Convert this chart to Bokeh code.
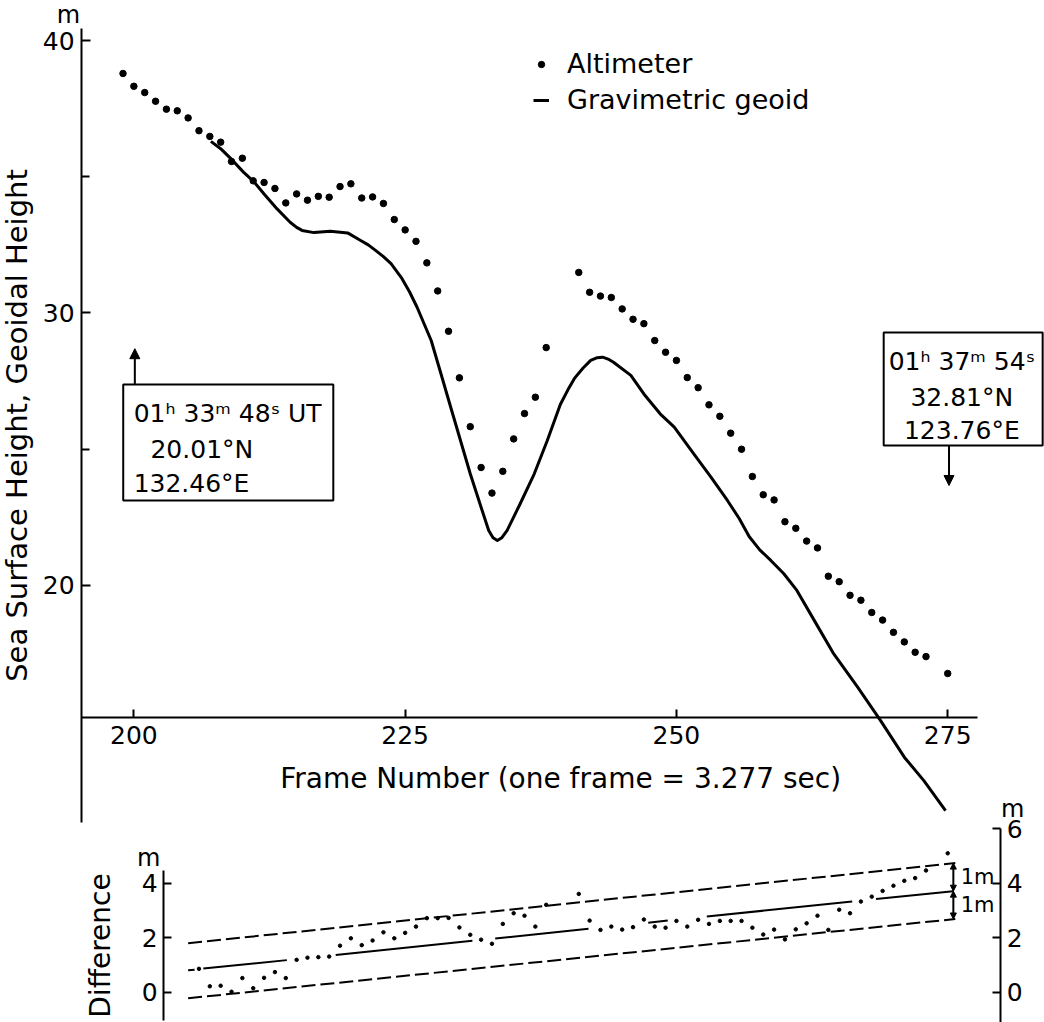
from bokeh.plotting import figure
from bokeh.models import (Range1d, LinearAxis, FixedTicker, Label, BoxAnnotation,
                          Arrow, NormalHead, Legend, LegendItem)
from bokeh.embed import file_html
from bokeh.resources import INLINE

FONT = "DejaVu Sans"

# ---------------- data ----------------
alt_frames = list(range(199, 239)) + list(range(241, 274)) + [275]
alt_height = [
    38.79, 38.32, 38.09, 37.77, 37.48, 37.42, 37.16, 36.69, 36.48, 36.27,
    35.56, 35.68, 34.85, 34.79, 34.57, 34.04, 34.37, 34.14, 34.28, 34.25,
    34.64, 34.74, 34.22, 34.26, 34.02, 33.43, 33.05, 32.63, 31.84, 30.81,
    29.33, 27.62, 25.83, 24.33, 23.39, 24.19, 25.38, 26.31, 26.91, 28.73,
    31.49, 30.76, 30.62, 30.57, 30.15, 29.77, 29.61, 28.99, 28.56, 28.26,
    27.63, 27.26, 26.63, 26.21, 25.59, 25.00, 24.00, 23.33, 23.14, 22.34,
    22.10, 21.63, 21.38, 20.34, 20.14, 19.64, 19.46, 19.01, 18.73, 18.28,
    17.93, 17.55, 17.39,
    16.77,
]

geoid_frames = [207.1, 208.0, 209.1, 210.1, 211.1, 212.0, 213.2, 214.4, 215.0, 215.5,
                216.6, 218.1, 219.7, 220.9, 221.6, 222.3, 223.0, 223.7, 224.7, 225.4,
                226.1, 227.4, 228.3, 229.2, 230.1, 231.0, 232.0, 232.7, 233.1, 233.5,
                233.9, 234.4, 235.6, 236.9, 238.1, 239.3, 240.0, 240.6, 241.4, 242.1,
                242.7, 243.2, 243.7, 244.2, 245.8, 247.0, 248.5, 249.8, 251.6, 253.2,
                254.7, 255.8, 256.7, 257.7, 258.7, 259.9, 261.1, 262.7, 264.5, 266.7,
                268.8, 271.0, 272.8, 274.8]
geoid_height = [36.30, 36.03, 35.60, 35.17, 34.80, 34.37, 33.82, 33.33, 33.14, 33.03,
                32.95, 33.00, 32.94, 32.66, 32.50, 32.29, 32.07, 31.81, 31.27, 30.78,
                30.21, 28.99, 27.77, 26.54, 25.32, 24.10, 22.87, 22.02, 21.75, 21.65,
                21.75, 22.02, 23.00, 24.10, 25.32, 26.64, 27.18, 27.60, 27.98, 28.26,
                28.36, 28.38, 28.31, 28.19, 27.71, 27.03, 26.30, 25.81, 24.83, 23.97,
                23.12, 22.45, 21.80, 21.30, 20.92, 20.43, 19.82, 18.72, 17.49, 16.27,
                15.05, 13.70, 12.84, 11.74]

diff_frames = list(range(206, 239)) + list(range(241, 274)) + [275]
diff_values = [
    0.85, 0.21, 0.23, 0.01, 0.51, 0.14, 0.52, 0.73, 0.51, 1.18,
    1.26, 1.28, 1.30, 1.70, 1.97, 1.72, 1.89, 2.19, 1.97, 2.17,
    2.40, 2.71, 2.71, 2.72, 2.37, 2.10, 1.92, 1.77, 2.50, 2.89,
    2.80, 2.40, 3.20,
    3.60, 2.62, 2.28, 2.40, 2.29, 2.38, 2.66, 2.40, 2.36, 2.61,
    2.40, 2.65, 2.50, 2.61, 2.61, 2.61, 2.36, 2.11, 2.29, 1.93,
    2.30, 2.52, 2.80, 2.28, 3.02, 2.89, 3.32, 3.50, 3.71, 3.90,
    4.08, 4.18, 4.46,
    5.09,
]

# trend line of the difference (solid pieces between the plotted points)
trend_seg_frames = [[205.0, 205.6], [206.4, 214.1], [218.6, 231.2], [233.3, 241.9],
                    [247.4, 249.2], [252.8, 266.2], [268.4, 275.5]]
trend_seg_values = [[0.80, 0.82], [0.86, 1.17], [1.36, 1.88], [1.96, 2.32],
                    [2.54, 2.62], [2.77, 3.32], [3.41, 3.70]]
# +-1 m envelope (dashed)
band_frames = [205.0, 275.7]
band_upper = [1.79, 4.73]
band_lower = [-0.23, 2.68]

x_ticks = [200, 225, 250, 275]
y_major = [20, 30, 40]
y_minor = [25, 35]
diff_left_ticks = [0, 2, 4]
diff_right_ticks = [0, 2, 4, 6]

# ---------------- figure ----------------
p = figure(width=1044, height=1022, output_backend="svg", toolbar_location=None,
           x_range=Range1d(187.71, 283.92), y_range=Range1d(3.963, 41.468),
           min_border=0, outline_line_color=None)
p.extra_y_ranges = {"diff": Range1d(-1.119, 36.385)}
p.grid.visible = False


def style_axis(ax, size="25px"):
    ax.axis_line_color = "black"
    ax.axis_line_width = 2
    ax.major_tick_line_color = "black"
    ax.major_tick_line_width = 2
    ax.minor_tick_line_color = "black"
    ax.minor_tick_line_width = 2
    ax.major_tick_out = 0
    ax.minor_tick_out = 0
    ax.minor_tick_in = 0
    ax.major_label_text_font = FONT
    ax.major_label_text_font_size = size
    ax.major_label_text_color = "black"
    ax.axis_label_text_font = FONT
    ax.axis_label_text_font_size = "29px"
    ax.axis_label_text_font_style = "normal"
    ax.axis_label_text_color = "black"


xa = p.xaxis[0]
style_axis(xa)
xa.fixed_location = 15.15
xa.bounds = (195.18, 277.73)
xa.ticker = FixedTicker(ticks=x_ticks)
xa.major_tick_in = 8
xa.major_label_standoff = 8

ya = p.yaxis[0]
style_axis(ya)
ya.fixed_location = 195.18
ya.bounds = (11.30, 40.44)
ya.ticker = FixedTicker(ticks=y_major, minor_ticks=y_minor)
ya.major_tick_in = 9
ya.minor_tick_in = 8
ya.major_label_standoff = 7
ya.axis_label = "Sea Surface Height, Geoidal Height"
ya.axis_label_standoff = 6

dl = LinearAxis(y_range_name="diff", fixed_location=202.75, bounds=(-1.05, 4.46),
                ticker=FixedTicker(ticks=diff_left_ticks), axis_label="Difference")
style_axis(dl)
dl.axis_label_text_font_size = "28px"
dl.major_tick_in = 8
dl.major_label_standoff = 6
dl.axis_label_standoff = 22
p.add_layout(dl, "left")

dr = LinearAxis(y_range_name="diff", fixed_location=279.88, bounds=(-1.12, 6.0),
                ticker=FixedTicker(ticks=diff_right_ticks))
style_axis(dr)
dr.major_tick_in = 8
dr.major_label_standoff = 6
p.add_layout(dr, "right")

# ---------------- glyphs ----------------
geo_r = p.line(geoid_frames, geoid_height, line_width=3, line_color="black",
               line_join="round")
alt_r = p.scatter(alt_frames, alt_height, size=6.5, color="black")

p.scatter(diff_frames, diff_values, size=3.5, color="black", y_range_name="diff")
p.line(band_frames, band_upper, line_width=2, line_dash="14 5", line_color="black",
       y_range_name="diff")
p.line(band_frames, band_lower, line_width=2, line_dash="14 5", line_color="black",
       y_range_name="diff")
p.multi_line(trend_seg_frames, trend_seg_values, line_width=2, line_color="black",
             y_range_name="diff")

# 1 m brackets
for y0, y1 in [(band_upper[1], trend_seg_values[-1][1]), (trend_seg_values[-1][1], band_lower[1])]:
    p.add_layout(Arrow(start=NormalHead(size=6, fill_color="black", line_color="black"),
                       end=NormalHead(size=6, fill_color="black", line_color="black"),
                       x_start=275.52, y_start=y0, x_end=275.52, y_end=y1,
                       line_width=2, y_range_name="diff"))
for yy in [4.22, 3.19]:
    p.add_layout(Label(x=276.2, y=yy, text="1m", y_range_name="diff",
                       text_font=FONT, text_font_size="21px", text_baseline="middle",
                       text_align="left", text_color="black"))

# ---------------- legend ----------------
legend = Legend(items=[LegendItem(label="Altimeter", renderers=[alt_r]),
                       LegendItem(label="Gravimetric geoid", renderers=[geo_r])],
                location=(533, 907), border_line_color=None, background_fill_alpha=0,
                label_text_font=FONT, label_text_font_size="27px",
                label_text_color="black", glyph_width=16, glyph_height=30,
                label_height=30, label_standoff=18, spacing=5, padding=0, margin=0)
p.add_layout(legend)

# ---------------- boxes with time / position ----------------
p.add_layout(BoxAnnotation(left=199.02, right=218.38, bottom=23.12, top=27.38,
                           fill_alpha=0, line_color="black", line_alpha=1.0,
                           line_width=2))
p.add_layout(Arrow(end=NormalHead(size=10, fill_color="black", line_color="black"),
                   x_start=200.09, y_start=27.38, x_end=200.09, y_end=28.69, line_width=2))
for x, y, t in [(199.98, 26.30, "01ʰ 33ᵐ 48ˢ UT"), (201.53, 24.98, "20.01°N"),
                (199.98, 23.75, "132.46°E")]:
    p.add_layout(Label(x=x, y=y, text=t, text_font=FONT, text_font_size="25px",
                       text_baseline="middle", text_align="left", text_color="black"))

p.add_layout(BoxAnnotation(left=269.1, right=283.75, bottom=25.14, top=29.28,
                           fill_alpha=0, line_color="black", line_alpha=1.0,
                           line_width=2))
p.add_layout(Arrow(end=NormalHead(size=10, fill_color="black", line_color="black"),
                   x_start=275.12, y_start=25.14, x_end=275.12, y_end=23.67, line_width=2))
for y, t in [(28.22, "01ʰ 37ᵐ 54ˢ"), (26.90, "32.81°N"), (25.69, "123.76°E")]:
    p.add_layout(Label(x=276.3, y=y, text=t, text_font=FONT, text_font_size="25px",
                       text_baseline="middle", text_align="center", text_color="black"))

# ---------------- titles and units ----------------
p.add_layout(Label(x=239.33, y=12.92, text="Frame Number (one frame = 3.277 sec)",
                   text_font=FONT, text_font_size="28px", text_baseline="middle",
                   text_align="center", text_color="black"))
p.add_layout(Label(x=193.98, y=40.92, text="m", text_font=FONT, text_font_size="24px",
                   text_baseline="middle", text_align="center", text_color="black"))
p.add_layout(Label(x=201.36, y=4.90, text="m", y_range_name="diff", text_font=FONT,
                   text_font_size="24px", text_baseline="middle", text_align="center",
                   text_color="black"))
p.add_layout(Label(x=280.99, y=6.70, text="m", y_range_name="diff", text_font=FONT,
                   text_font_size="24px", text_baseline="middle", text_align="center",
                   text_color="black"))

open("out.html", "w").write(file_html(p, INLINE))
